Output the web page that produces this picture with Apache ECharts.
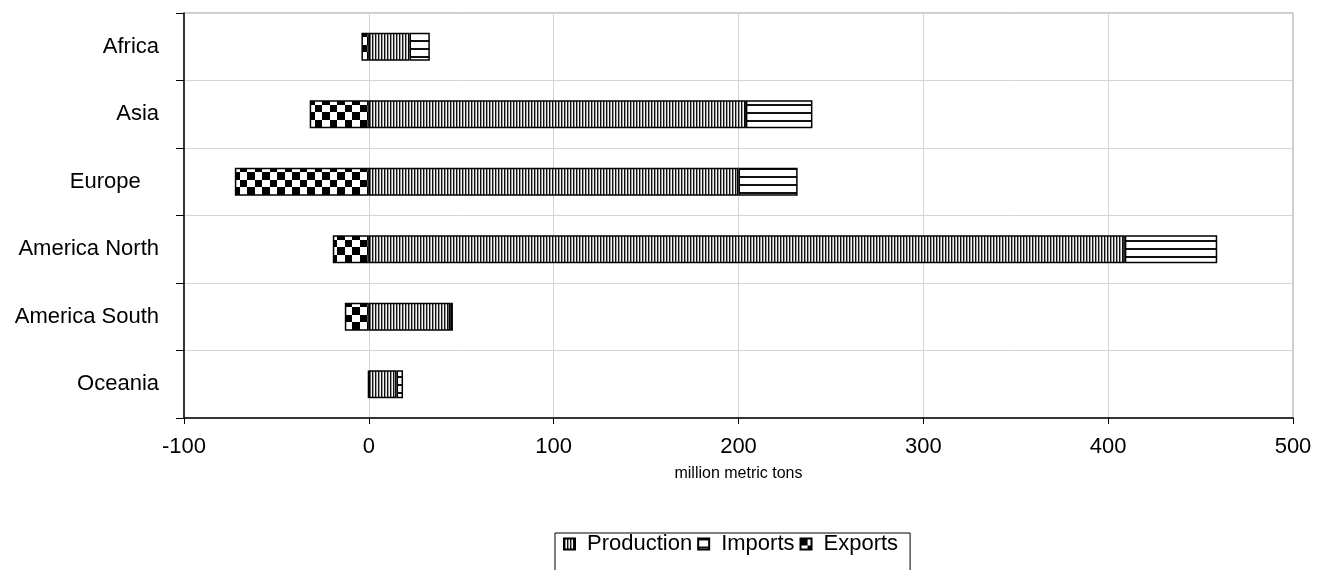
<!DOCTYPE html>
<html>
<head>
<meta charset="utf-8">
<script src="https://cdn.jsdelivr.net/npm/echarts@6/dist/echarts.min.js"></script>
<style>
html,body{margin:0;padding:0;background:#fff;}
#chart{width:1325px;height:570px;}
</style>
</head>
<body>
<div id="chart"></div>
<script>
var categories = ['Africa', 'Asia', 'Europe   ', 'America North', 'America South', 'Oceania'];
var production = [22, 204, 200, 409, 44, 15];
var imports = [11, 36, 32, 50, 1.5, 3.5];
var exportsData = [-4, -32, -72.5, -19.5, -13, -0.4];
var xTicks = { min: -100, max: 500, interval: 100 };

function makePattern(w, h, draw) {
  var c = document.createElement('canvas');
  c.width = w; c.height = h;
  var ctx = c.getContext('2d');
  draw(ctx);
  return { image: c, repeat: 'repeat' };
}
var prodPattern = makePattern(3, 3, function (ctx) {
  ctx.fillStyle = '#111'; ctx.fillRect(0, 0, 1, 3);
  ctx.fillStyle = '#9a9a9a'; ctx.fillRect(1, 0, 1, 3);
  ctx.fillStyle = '#f4f4f4'; ctx.fillRect(2, 0, 1, 3);
});
var impPattern = makePattern(8, 8, function (ctx) {
  ctx.fillStyle = '#fff'; ctx.fillRect(0, 0, 8, 8);
  ctx.fillStyle = '#111'; ctx.fillRect(0, 0, 8, 2);
});
var expPattern = makePattern(15, 15, function (ctx) {
  ctx.fillStyle = '#fff'; ctx.fillRect(0, 0, 15, 15);
  ctx.fillStyle = '#000'; ctx.fillRect(0, 0, 7, 7); ctx.fillRect(7, 7, 8, 8);
});

var font = 'Liberation Sans, Arial, sans-serif';
var chart = echarts.init(document.getElementById('chart'), null, { renderer: 'canvas' });
var barStyle = function (pat) {
  return { color: pat, borderColor: '#000', borderWidth: 1.5 };
};
chart.setOption({
  animation: false,
  backgroundColor: '#fff',
  grid: { left: 184, right: 32, top: 13, bottom: 152, show: true, borderColor: '#999', borderWidth: 1, backgroundColor: 'transparent' },
  legend: {
    left: 555, top: 533,
    orient: 'horizontal',
    icon: 'rect',
    data: ['Production', 'Imports', 'Exports'],
    itemWidth: 11, itemHeight: 11, itemGap: 5,
    borderColor: '#000', borderWidth: 1, borderRadius: 0,
    padding: [0, 12, 20, 8],
    textStyle: { fontFamily: font, fontSize: 22, color: '#000', padding: [0, 0, 0, 7] }
  },
  xAxis: {
    type: 'value',
    min: xTicks.min, max: xTicks.max, interval: xTicks.interval,
    name: 'million metric tons',
    nameLocation: 'middle', nameGap: 48,
    nameTextStyle: { fontFamily: font, fontSize: 16, color: '#000' },
    axisLine: { show: true, lineStyle: { color: '#000', width: 1.5 } },
    axisTick: { show: true, length: 6, lineStyle: { color: '#000' } },
    axisLabel: { fontFamily: font, fontSize: 22, color: '#000', margin: 18 },
    splitLine: { show: true, lineStyle: { color: '#d4d4d4', width: 1 } }
  },
  yAxis: {
    type: 'category',
    data: categories,
    inverse: true,
    axisLine: { show: true, onZero: false, lineStyle: { color: '#000', width: 1.5 } },
    axisTick: { show: true, length: 8, alignWithLabel: false, lineStyle: { color: '#000' } },
    axisLabel: { fontFamily: font, fontSize: 22, color: '#000', margin: 25 },
    splitLine: { show: true, lineStyle: { color: '#d4d4d4', width: 1 } }
  },
  series: [
    { name: 'Production', type: 'bar', stack: 'total', barWidth: 28, data: production, itemStyle: barStyle(prodPattern) },
    { name: 'Imports', type: 'bar', stack: 'total', barWidth: 28, data: imports, itemStyle: barStyle(impPattern) },
    { name: 'Exports', type: 'bar', stack: 'total', barWidth: 28, data: exportsData, itemStyle: barStyle(expPattern) }
  ]
});
</script>
</body>
</html>
